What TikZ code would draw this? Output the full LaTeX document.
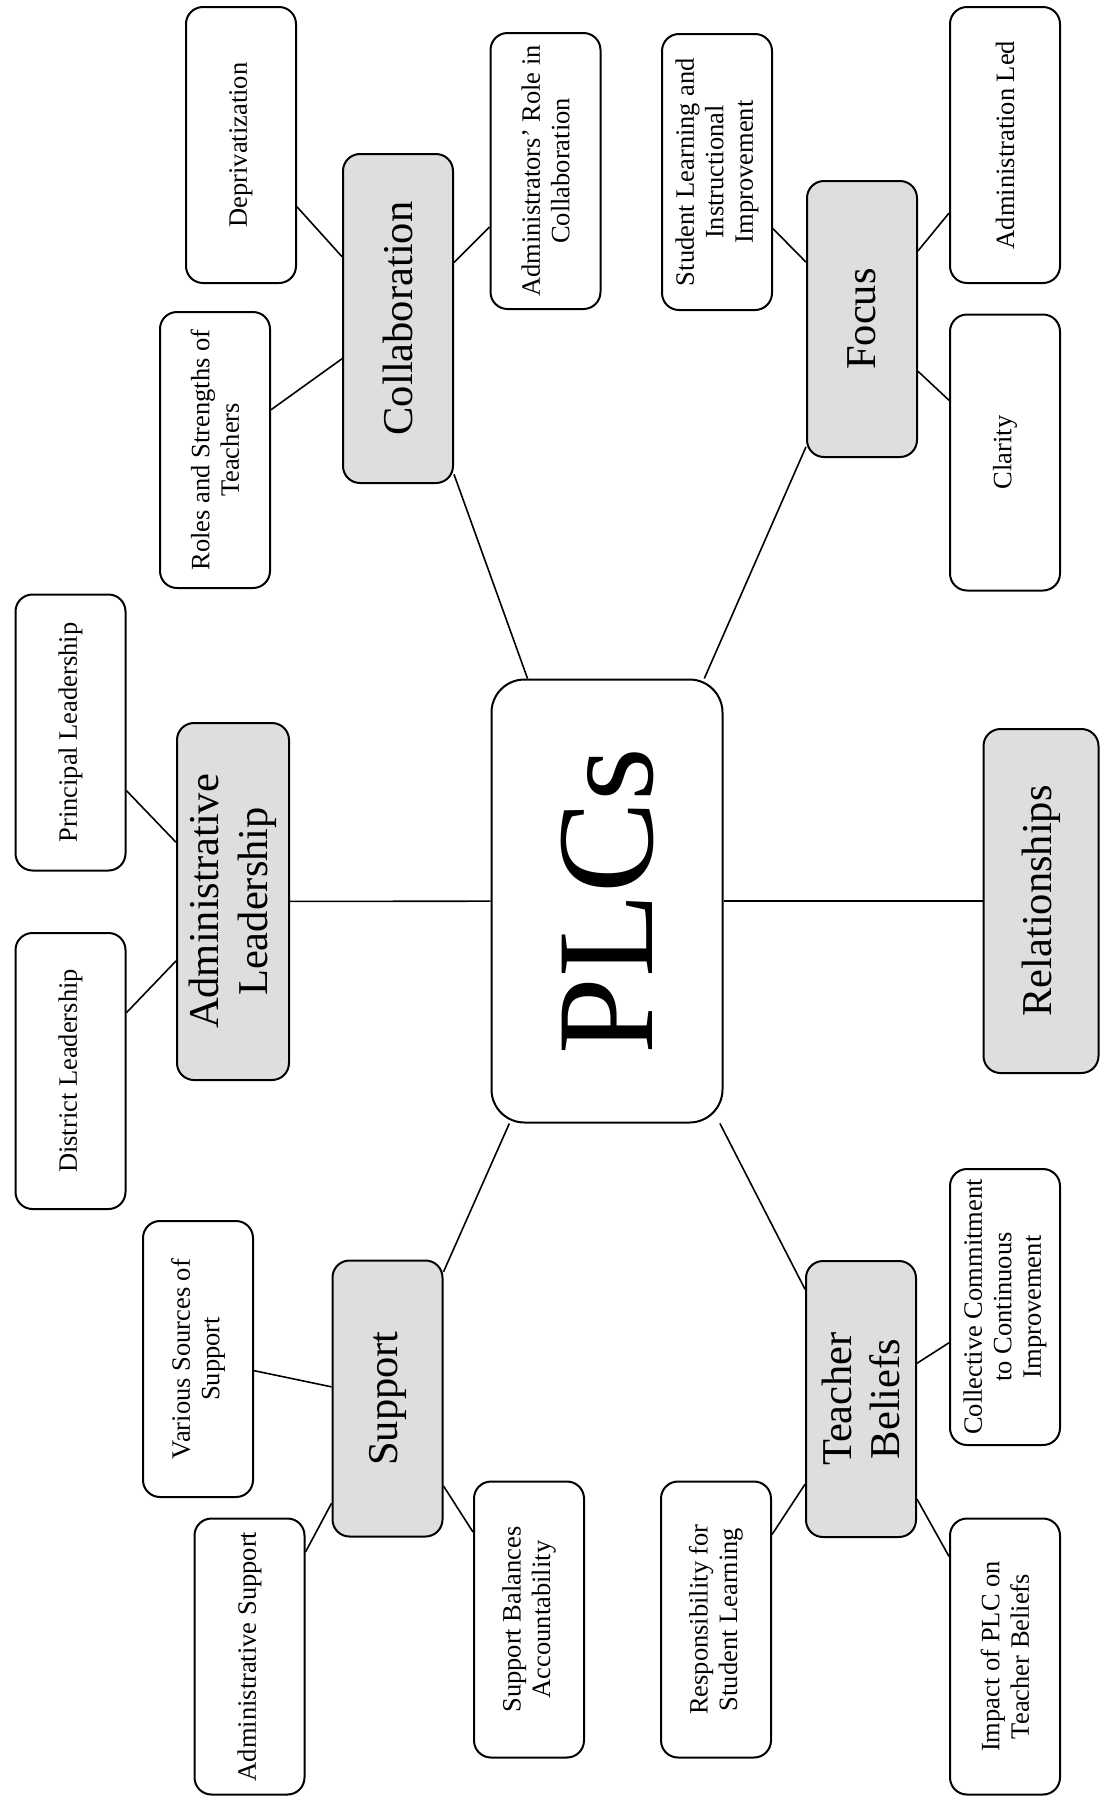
\documentclass[tikz,border=0pt]{standalone}
\usepackage{fontspec}
\setmainfont{Liberation Serif}
\definecolor{cbox}{HTML}{DEDEDE}

\begin{document}
\begin{tikzpicture}[x=1pt,y=-1pt,
  leaf/.style={draw,line width=2pt,rounded corners=17pt,rotate=90,align=center,inner sep=2pt,
    minimum width=276pt,minimum height=110pt,font=\fontsize{26.5}{29.5}\selectfont},
  topic/.style={leaf,fill=cbox,font=\fontsize{42.5}{48.5}\selectfont},
  hub/.style={leaf,rounded corners=33pt,minimum width=443pt,minimum height=231pt,font=\fontsize{138}{150}\selectfont},
  link/.style={line width=1.6pt}]
  \useasboundingbox (0,0) rectangle (1102,1808);
  \node[hub] (plc) at (607,901) {PLCs};
  \node[topic,minimum width=357pt,minimum height=112pt] (adm) at (233,901.5) {Administrative\\Leadership};
  \node[leaf] (princ) at (70.5,732.5) {Principal Leadership};
  \node[leaf] (dist) at (70.5,1071) {District Leadership};
  \node[topic,minimum width=329pt] (collab) at (398,318.5) {Collaboration};
  \node[leaf] (roles) at (215,450) {Roles and Strengths of\\Teachers};
  \node[leaf] (depriv) at (241,145) {Deprivatization};
  \node[leaf] (admrole) at (545.5,171) {Administrators' Role in\\Collaboration};
  \node[topic] (focus) at (862,319) {Focus};
  \node[leaf] (stud) at (717,172) {Student Learning and\\Instructional\\Improvement};
  \node[leaf] (admled) at (1005,145) {Administration Led};
  \node[leaf] (clar) at (1005,452.5) {Clarity};
  \node[topic,minimum width=344pt,minimum height=115pt] (rel) at (1041,901) {Relationships};
  \node[topic] (supp) at (387.5,1398.5) {Support};
  \node[leaf] (various) at (198,1359) {Various Sources of\\Support};
  \node[leaf] (admsupp) at (249.5,1656.5) {Administrative Support};
  \node[leaf] (balance) at (529,1619.5) {Support Balances\\Accountability};
  \node[topic] (belief) at (861,1399) {Teacher\\Beliefs};
  \node[leaf] (commit) at (1005,1307) {Collective Commitment\\to Continuous\\Improvement};
  \node[leaf] (resp) at (716,1619.5) {Responsibility for\\Student Learning};
  \node[leaf] (impact) at (1005,1656.5) {Impact of PLC on\\Teacher Beliefs};
  \draw[link] (plc) -- (adm);
  \draw[link] (plc) -- (collab);
  \draw[link] (plc) -- (focus);
  \draw[link] (plc) -- (rel);
  \draw[link] (plc) -- (supp);
  \draw[link] (plc) -- (belief);
  \draw[link] (adm) -- (princ);
  \draw[link] (adm) -- (dist);
  \draw[link] (collab) -- (roles);
  \draw[link] (collab) -- (depriv);
  \draw[link] (collab) -- (admrole);
  \draw[link] (focus) -- (stud);
  \draw[link] (focus) -- (admled);
  \draw[link] (focus) -- (clar);
  \draw[link] (supp) -- (various);
  \draw[link] (supp) -- (admsupp);
  \draw[link] (supp) -- (balance);
  \draw[link] (belief) -- (commit);
  \draw[link] (belief) -- (resp);
  \draw[link] (belief) -- (impact);
\end{tikzpicture}
\end{document}
